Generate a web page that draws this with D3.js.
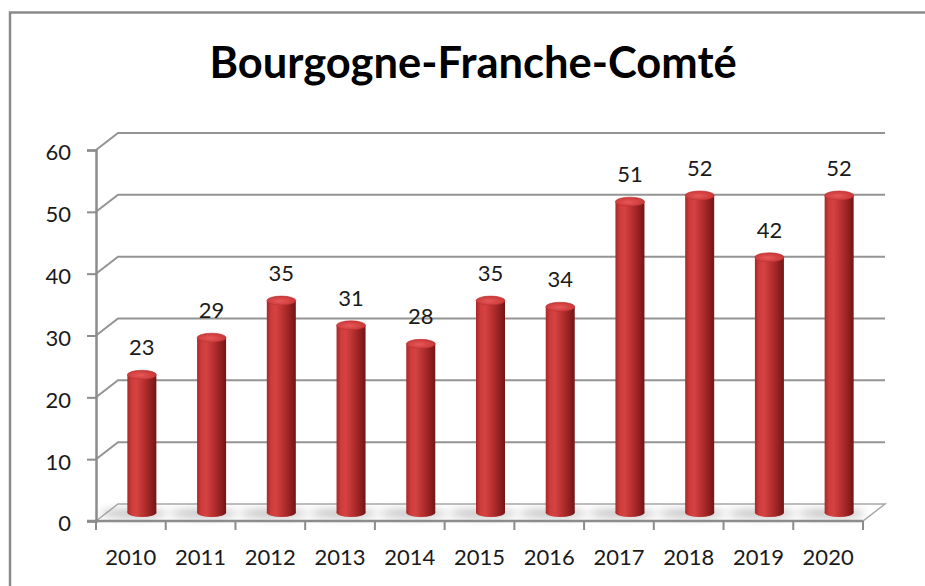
<!DOCTYPE html>
<html>
<head>
<meta charset="utf-8">
<script src="https://cdn.jsdelivr.net/npm/d3@7"></script>
<style>
  html, body { margin: 0; padding: 0; background: #fff; overflow: hidden; }
  svg { display: block; }
  text { font-family: Lato, "Open Sans", sans-serif; fill: #1a1a1a; }
</style>
</head>
<body>
<div class="chart"></div>
<script>
(function() {
  'use strict';

  const WIDTH = 925;
  const HEIGHT = 586;

  // Chart data
  const TITLE = 'Bourgogne-Franche-Comté';
  const YEARS = ['2010', '2011', '2012', '2013', '2014', '2015', '2016', '2017', '2018', '2019', '2020'];
  const VALUES = [23, 29, 35, 31, 28, 35, 34, 51, 52, 42, 52];
  const Y_TICKS = [0, 10, 20, 30, 40, 50, 60];

  // Depth of the 3D box (back wall offset)
  const DX = 22;
  const DY = -17;

  const svg = d3.select('.chart')
    .append('svg')
    .attr('width', WIDTH)
    .attr('height', HEIGHT);

  const defs = svg.append('defs');

  // Cylinder body shading
  const body = defs.append('linearGradient')
    .attr('id', 'cyl-body')
    .attr('x1', 0).attr('x2', 1).attr('y1', 0).attr('y2', 0);
  [['0%', '#a82727'], ['15%', '#cf3c3c'], ['32%', '#d54242'],
   ['62%', '#b02c2c'], ['86%', '#8a1d1d'], ['100%', '#731515']]
    .forEach(function(s) {
      body.append('stop').attr('offset', s[0]).attr('stop-color', s[1]);
    });

  const top = defs.append('radialGradient')
    .attr('id', 'cyl-top')
    .attr('cx', '45%').attr('cy', '55%').attr('r', '60%');
  top.append('stop').attr('offset', '0%').attr('stop-color', '#e85858');
  top.append('stop').attr('offset', '100%').attr('stop-color', '#c63434');

  defs.append('filter')
    .attr('id', 'blur')
    .attr('x', '-50%').attr('y', '-200%').attr('width', '200%').attr('height', '500%')
    .append('feGaussianBlur')
    .attr('stdDeviation', 4);

  // Outer frame: only the top and left edges are inside the picture
  svg.append('path')
    .attr('d', 'M10,' + (HEIGHT + 10) + 'V12.5H' + (WIDTH + 10))
    .attr('fill', 'none')
    .attr('stroke', '#8a8a8a')
    .attr('stroke-width', 2.5);

  // Title
  svg.append('text')
    .attr('x', 473)
    .attr('y', 78)
    .attr('text-anchor', 'middle')
    .style('font-size', '43.5px')
    .style('font-weight', 'bold')
    .style('fill', '#000')
    .text(TITLE);

  // Scales
  const x = d3.scaleBand()
    .domain(YEARS)
    .range([96, 863]);

  const y = d3.scaleLinear()
    .domain([0, 60])
    .range([521, 150]);

  const grid = svg.append('g').attr('class', 'grid');

  // Back wall gridlines and left wall diagonals
  Y_TICKS.forEach(function(t) {
    if (t === 0) return;
    grid.append('path')
      .attr('d', 'M' + x.range()[0] + ',' + y(t) +
                 'L' + (x.range()[0] + DX) + ',' + (y(t) + DY) +
                 'L' + (x.range()[1] + DX) + ',' + (y(t) + DY))
      .attr('fill', 'none')
      .attr('stroke', '#949494')
      .attr('stroke-width', 2);
  });

  // Floor
  const x0 = x.range()[0], x1 = x.range()[1], y0 = y(0);
  grid.append('path')
    .attr('d', 'M' + x0 + ',' + y0 + 'L' + (x0 + DX) + ',' + (y0 + DY) +
               'L' + (x1 + DX) + ',' + (y0 + DY) + 'L' + x1 + ',' + y0 + 'Z')
    .attr('fill', '#fff')
    .attr('stroke', '#a8a8a8')
    .attr('stroke-width', 1.5);

  // Floor shadows
  const shadows = svg.append('g').attr('class', 'shadows');
  YEARS.forEach(function(d) {
    const cx = x(d) + x.bandwidth() / 2 + DX / 2;
    shadows.append('ellipse')
      .attr('cx', cx - 8)
      .attr('cy', y0 + DY / 2 + 1)
      .attr('rx', 34)
      .attr('ry', 4)
      .attr('fill', '#8f8f8f')
      .attr('opacity', 0.6)
      .attr('filter', 'url(#blur)');
  });

  // Left axis
  const yAxis = svg.append('g')
    .attr('class', 'y-axis')
    .attr('transform', 'translate(' + x0 + ',0)')
    .call(d3.axisLeft(y).tickValues(Y_TICKS).tickSize(9).tickPadding(16));
  yAxis.select('.domain').attr('stroke', '#8c8c8c').attr('stroke-width', 2.5);
  yAxis.selectAll('.tick line').attr('stroke', '#8c8c8c').attr('stroke-width', 2);
  yAxis.selectAll('.tick text')
    .attr('dy', '0.45em')
    .style('font-size', '22px')
    .style('font-family', 'Lato, sans-serif')
    .attr('fill', '#1a1a1a');

  // Bottom axis line with ticks at category boundaries
  const xAxis = svg.append('g').attr('class', 'x-axis');
  xAxis.append('line')
    .attr('x1', x0 - 9).attr('x2', x1)
    .attr('y1', y0).attr('y2', y0)
    .attr('stroke', '#8c8c8c').attr('stroke-width', 2.5);
  YEARS.concat(['end']).forEach(function(d, i) {
    const tx = i < YEARS.length ? x(d) : x1;
    xAxis.append('line')
      .attr('x1', tx).attr('x2', tx)
      .attr('y1', y0).attr('y2', y0 + 9)
      .attr('stroke', '#8c8c8c').attr('stroke-width', 2);
  });
  xAxis.selectAll('text.cat')
    .data(YEARS)
    .enter().append('text')
    .attr('class', 'cat')
    .attr('x', function(d) { return x(d) + x.bandwidth() / 2; })
    .attr('y', 565)
    .attr('text-anchor', 'middle')
    .style('font-size', '22px')
    .text(function(d) { return d; });

  // Cylinders
  const RX = 14.5;
  const RY = 4.5;
  const bars = svg.append('g').attr('class', 'bars');
  YEARS.forEach(function(d, i) {
    const cx = x(d) + x.bandwidth() / 2 + DX / 2;
    const yb = y(0) + DY / 2;
    const yt = y(VALUES[i]) + DY / 2 + RY;
    const g = bars.append('g');
    g.append('ellipse')
      .attr('cx', cx).attr('cy', yb)
      .attr('rx', RX).attr('ry', RY)
      .attr('fill', 'url(#cyl-body)');
    g.append('rect')
      .attr('x', cx - RX).attr('y', yt)
      .attr('width', RX * 2).attr('height', yb - yt)
      .attr('fill', 'url(#cyl-body)');
    g.append('ellipse')
      .attr('cx', cx).attr('cy', yt)
      .attr('rx', RX).attr('ry', RY)
      .attr('fill', 'url(#cyl-top)')
      .attr('stroke', '#bd3131')
      .attr('stroke-width', 0.6);

    // Value label
    svg.append('text')
      .attr('x', cx)
      .attr('y', y(VALUES[i]) + DY / 2 - 15)
      .attr('text-anchor', 'middle')
      .style('font-size', '22px')
      .text(VALUES[i]);
  });
})();
</script>
</body>
</html>
